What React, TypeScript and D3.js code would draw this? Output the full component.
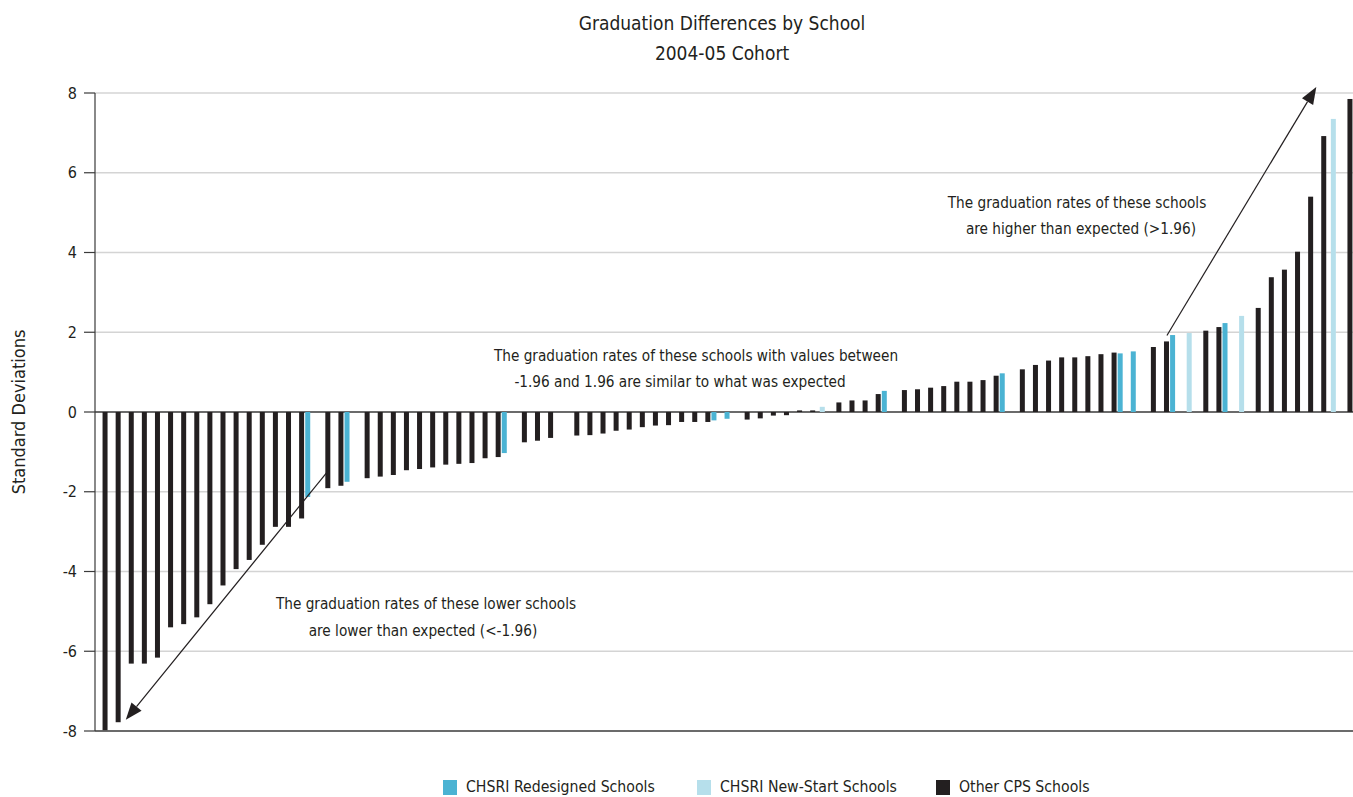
import React from 'react';
import * as d3 from 'd3';

// Standardized graduation differences, one entry per school, sorted low → high
const schoolValues = [
  -7.98, -7.78, -6.31, -6.31, -6.16, -5.4, -5.32, -5.15, -4.82, -4.35,
  -3.94, -3.71, -3.33, -2.88, -2.88, -2.67, -2.13, -1.91, -1.85, -1.75,
  -1.66, -1.62, -1.58, -1.46, -1.43, -1.39, -1.32, -1.3, -1.28, -1.16,
  -1.13, -1.03, -0.76, -0.72, -0.65, 0, -0.59, -0.58, -0.54, -0.47,
  -0.44, -0.38, -0.34, -0.33, -0.25, -0.25, -0.25, -0.21, -0.17, -0.19,
  -0.16, -0.09, -0.08, 0.04, 0.04, 0.13, 0.24, 0.29, 0.29, 0.45,
  0.53, 0.55, 0.57, 0.61, 0.65, 0.76, 0.76, 0.8, 0.91, 0.97,
  1.07, 1.18, 1.29, 1.37, 1.37, 1.4, 1.45, 1.49, 1.47, 1.52,
  1.63, 1.77, 1.93, 1.98, 2.04, 2.13, 2.23, 2.41, 2.61, 3.38,
  3.57, 4.02, 5.4, 6.92, 7.35, 7.85,
];

// R = CHSRI Redesigned, N = CHSRI New-Start, O = Other CPS
const schoolTypes = [
  'O', 'O', 'O', 'O', 'O', 'O', 'O', 'O', 'O', 'O',
  'O', 'O', 'O', 'O', 'O', 'O', 'R', 'O', 'O', 'R',
  'O', 'O', 'O', 'O', 'O', 'O', 'O', 'O', 'O', 'O',
  'O', 'R', 'O', 'O', 'O', 'O', 'O', 'O', 'O', 'O',
  'O', 'O', 'O', 'O', 'O', 'O', 'O', 'R', 'R', 'O',
  'O', 'O', 'O', 'O', 'O', 'N', 'O', 'O', 'O', 'O',
  'R', 'O', 'O', 'O', 'O', 'O', 'O', 'O', 'O', 'R',
  'O', 'O', 'O', 'O', 'O', 'O', 'O', 'O', 'R', 'R',
  'O', 'O', 'R', 'N', 'O', 'O', 'R', 'N', 'O', 'O',
  'O', 'O', 'O', 'O', 'N', 'O',
];

const seriesKeys = ['R', 'N', 'O'];
const seriesLabels = ['CHSRI Redesigned Schools', 'CHSRI New-Start Schools', 'Other CPS Schools'];
const seriesColors = ['#4bb3d3', '#b6dfeb', '#231f20'];

const yTicks = [-8, -6, -4, -2, 0, 2, 4, 6, 8];

const FONT = "'Liberation Sans Narrow', 'Arial Narrow', 'DejaVu Sans Condensed', sans-serif";

const W = 1353;
const H = 797;
const margin = { top: 93, right: 0, bottom: 65, left: 95 };

const Arrow: React.FC<{ x1: number; y1: number; x2: number; y2: number }> = ({ x1, y1, x2, y2 }) => {
  const a = Math.atan2(y2 - y1, x2 - x1);
  const len = 17;
  const half = 6.5;
  const bx = x2 - len * Math.cos(a);
  const by = y2 - len * Math.sin(a);
  const px = -Math.sin(a) * half;
  const py = Math.cos(a) * half;
  return (
    <g>
      <line x1={x1} y1={y1} x2={bx} y2={by} stroke="#231f20" strokeWidth={1.2} />
      <path d={`M${x2},${y2}L${bx + px},${by + py}L${bx - px},${by - py}Z`} fill="#231f20" />
    </g>
  );
};

export default function App() {
  const x = d3
    .scaleBand<number>()
    .domain(d3.range(schoolValues.length))
    .range([margin.left, W - margin.right])
    .padding(0);
  // continuous version of the category axis, for annotation anchors
  const xPos = d3.scaleLinear().domain([0, schoolValues.length]).range([margin.left, W - margin.right]);
  const y = d3.scaleLinear().domain([-8, 8]).range([H - margin.bottom - 1, margin.top]);
  const seriesOffset = d3.scalePoint<string>().domain(seriesKeys).range([-3.5, 3.5]);
  const color = d3.scaleOrdinal<string, string>().domain(seriesKeys).range(seriesColors);
  const barW = 5;

  const legendX = [443, 697, 936];

  return (
    <svg
      width={W}
      height={H}
      style={{ position: 'absolute', left: 0, top: 0, background: '#fff' }}
      fontFamily={FONT}
    >
      {/* title */}
      <text x={722} y={30} textAnchor="middle" fontSize={19} fill="#231f20">
        Graduation Differences by School
      </text>
      <text x={722} y={60} textAnchor="middle" fontSize={19} fill="#231f20">
        2004-05 Cohort
      </text>

      {/* grid */}
      {yTicks.map((t) => (
        <line
          key={t}
          x1={margin.left}
          x2={W - margin.right}
          y1={y(t)}
          y2={y(t)}
          stroke={t === 0 || t === -8 ? '#3a3a3a' : '#d4d4d4'}
          strokeWidth={1.3}
        />
      ))}

      {/* y axis */}
      <line x1={margin.left} x2={margin.left} y1={y(8)} y2={y(-8)} stroke="#3a3a3a" strokeWidth={1.2} />
      {yTicks.map((t) => (
        <g key={t}>
          <line x1={margin.left - 11} x2={margin.left} y1={y(t)} y2={y(t)} stroke="#3a3a3a" strokeWidth={1.2} />
          <text x={77} y={y(t)} dy="0.35em" textAnchor="end" fontSize={16} fill="#231f20">
            {t}
          </text>
        </g>
      ))}
      <text
        transform={`translate(25,${y(0)}) rotate(-90)`}
        textAnchor="middle"
        fontSize={18}
        fill="#231f20"
      >
        Standard Deviations
      </text>

      {/* bars */}
      {schoolValues.map((v, i) => {
        const t = schoolTypes[i];
        const cx = (x(i) ?? 0) + x.bandwidth() / 2 + (seriesOffset(t) ?? 0);
        return (
          <rect
            key={i}
            x={cx - barW / 2}
            y={Math.min(y(v), y(0))}
            width={barW}
            height={Math.abs(y(v) - y(0))}
            fill={color(t)}
          />
        );
      })}

      {/* annotations */}
      <text fontSize={15.2} fill="#231f20" textAnchor="middle">
        <tspan x={1077} y={208}>The graduation rates of these schools</tspan>
        <tspan x={1081} y={234}>are higher than expected (&gt;1.96)</tspan>
      </text>
      <text fontSize={15.2} fill="#231f20" textAnchor="middle">
        <tspan x={696} y={361}>The graduation rates of these schools with values between</tspan>
        <tspan x={680} y={387}>-1.96 and 1.96 are similar to what was expected</tspan>
      </text>
      <text fontSize={15.2} fill="#231f20" textAnchor="middle">
        <tspan x={426} y={609}>The graduation rates of these lower schools</tspan>
        <tspan x={423} y={636}>are lower than expected (&lt;-1.96)</tspan>
      </text>
      <Arrow x1={xPos(81.8)} y1={y(1.92)} x2={xPos(93.2)} y2={y(8.15)} />
      <Arrow x1={xPos(17.9)} y1={y(-1.43)} x2={xPos(2.35)} y2={y(-7.72)} />

      {/* legend */}
      {seriesKeys.map((k, i) => (
        <g key={k}>
          <rect x={legendX[i]} y={780} width={14} height={15} fill={seriesColors[i]} />
          <text x={legendX[i] + 23} y={792} fontSize={15.7} fill="#231f20">
            {seriesLabels[i]}
          </text>
        </g>
      ))}
    </svg>
  );
}
